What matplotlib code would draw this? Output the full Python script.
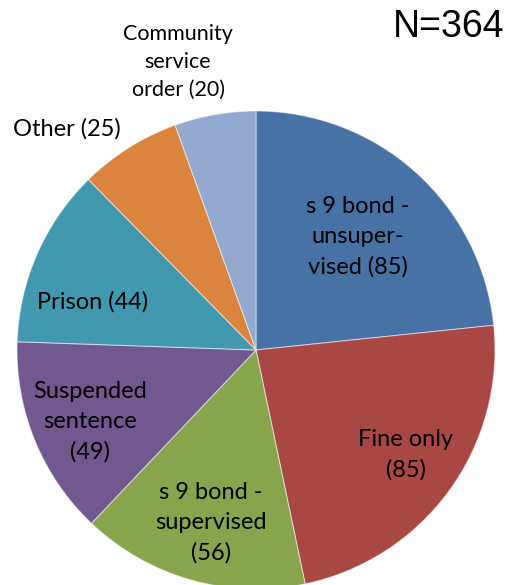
import matplotlib
matplotlib.use('Agg')
from matplotlib import pyplot as plt

# Sentence outcomes, clockwise from 12 o'clock
labels = ['s 9 bond -\nunsuper-\nvised (85)', 'Fine only\n(85)',
          's 9 bond -\nsupervised\n(56)', 'Suspended\nsentence\n(49)',
          'Prison (44)', 'Other (25)', 'Community\nservice\norder (20)']
counts = [85, 85, 56, 49, 44, 25, 20]
colors = ['#4672A6', '#A84744', '#88A54E', '#71588F',
          '#4198AF', '#DB843D', '#93A9CF']

# label centres in image pixels and font size
label_pos = [(358, 237), (406, 455), (211, 523), (90, 422),
             (93, 302), (67, 129), (178, 62)]
label_size = [17, 17, 17, 17, 17, 17, 15.5]

W, H = 507, 585
fig = plt.figure(figsize=(W / 100, H / 100), dpi=100)
ax = fig.add_axes([0, 0, 1, 1])

ax.pie(counts, colors=colors, startangle=90, counterclock=False,
       center=(256, H - 350), radius=239, frame=True,
       wedgeprops=dict(edgecolor=(1, 1, 1, 0.5), linewidth=0.8))
ax.set_xlim(0, W)
ax.set_ylim(0, H)
ax.set_aspect('equal')
ax.axis('off')

for lab, (px, py), fs in zip(labels, label_pos, label_size):
    ax.text(px, H - py, lab, ha='center', va='center', fontsize=fs,
            family='Lato', linespacing=1.52)

ax.text(449, H - 27, 'N=364', ha='center', va='center', fontsize=27,
        family='Liberation Sans')

fig.savefig('out.png', dpi=100)
